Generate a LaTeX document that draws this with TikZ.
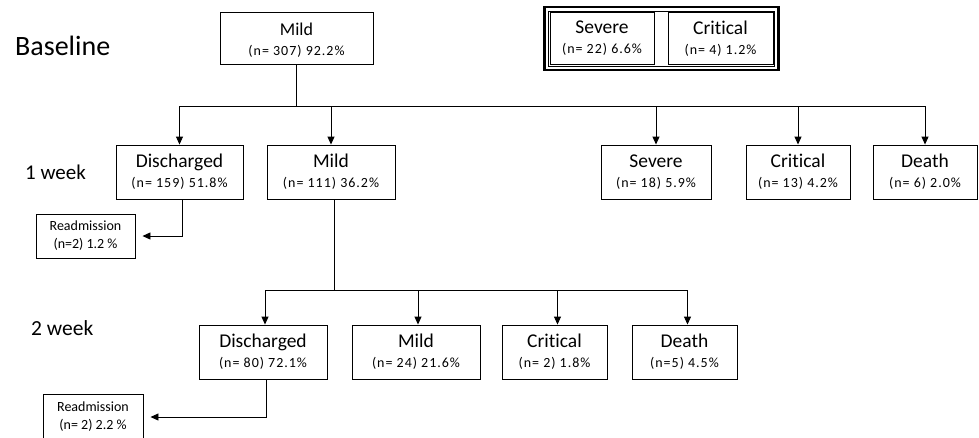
\documentclass[tikz,border=0pt]{standalone}
\usepackage{fontspec}
\setmainfont{Carlito}[Ligatures=NoCommon]
\newfontfamily\subfont{Carlito}[Ligatures=NoCommon, LetterSpace=7]
\usetikzlibrary{arrows.meta}
\begin{document}
\begin{tikzpicture}[x=1pt,y=-1pt,
  box/.style={draw, line width=0.9pt, inner sep=0pt, align=center, font=\subfont\fontsize{14}{20}\selectfont},
  rbox/.style={draw, line width=0.9pt, inner sep=0pt, align=center, font=\fontsize{14}{18}\selectfont},
  conn/.style={line width=0.9pt},
  arr/.style={line width=0.9pt, -{Triangle[length=8pt,width=7pt]}},
  lbl/.style={inner sep=0pt, anchor=west},
]
\newcommand{\ttl}[1]{{\normalfont\fontsize{19.5}{20}\selectfont #1}}
\useasboundingbox (0,0) rectangle (979,437);

% row labels
\node[lbl, font=\fontsize{28}{30}\selectfont] (lb0) at (15,46) {Baseline};
\node[lbl, font=\fontsize{21}{24}\selectfont] (lb1) at (25,172) {1 week};
\node[lbl, font=\fontsize{21.5}{24}\selectfont] (lb2) at (31,328) {2 week};

% baseline
\node[box, minimum width=153pt, minimum height=52pt, text height=37pt] (b0) at (296.5,38)
  {{\normalfont\fontsize{18}{20}\selectfont Mild}\\(n= 307) 92.2\%};
\node[draw, line width=2.6pt, minimum width=234pt, minimum height=63pt, inner sep=0pt] (grp) at (661.5,38.5) {};
\node[draw, line width=0.7pt, minimum width=226pt, minimum height=55pt, inner sep=0pt] (grpin) at (661.5,38.5) {};
\node[box, minimum width=104pt, minimum height=52pt] (bsev) at (602,38.5)
  {\ttl{Severe}\\(n= 22) 6.6\%};
\node[box, minimum width=105pt, minimum height=52pt] (bcri) at (720.5,38.5)
  {\ttl{Critical}\\(n= 4) 1.2\%};

% week 1
\node[box, minimum width=127pt, minimum height=54pt] (w1dis) at (179.5,172)
  {\ttl{Discharged}\\(n= 159) 51.8\%};
\node[box, minimum width=128pt, minimum height=54pt] (w1mil) at (331,172)
  {\ttl{Mild}\\(n= 111) 36.2\%};
\node[box, minimum width=110pt, minimum height=54pt] (w1sev) at (656,172)
  {\ttl{Severe}\\(n= 18) 5.9\%};
\node[box, minimum width=104pt, minimum height=54pt] (w1cri) at (798,172)
  {\ttl{Critical}\\(n= 13) 4.2\%};
\node[box, minimum width=104pt, minimum height=54pt] (w1dea) at (925,172)
  {\ttl{Death}\\(n= 6) 2.0\%};
\node[rbox, minimum width=99pt, minimum height=44pt] (re1) at (85.5,236)
  {Readmission\\(n=2) 1.2 \%};

% week 2
\node[box, minimum width=128pt, minimum height=54pt] (w2dis) at (263,352)
  {\ttl{Discharged}\\(n= 80) 72.1\%};
\node[box, minimum width=128pt, minimum height=54pt] (w2mil) at (416,352)
  {\ttl{Mild}\\(n= 24) 21.6\%};
\node[box, minimum width=105pt, minimum height=54pt] (w2cri) at (554.5,352)
  {\ttl{Critical}\\(n= 2) 1.8\%};
\node[box, minimum width=105pt, minimum height=54pt] (w2dea) at (684.5,352)
  {\ttl{Death}\\(n=5) 4.5\%};
\node[rbox, minimum width=100pt, minimum height=46pt] (re2) at (93,417)
  {Readmission\\(n= 2) 2.2 \%};

% connectors baseline -> week 1
\coordinate (bus1) at (296.5,106);
\draw[conn] (b0.south) -- (bus1);
\draw[conn] (w1dis.north |- bus1) -- (w1dea.north |- bus1);
\foreach \n in {w1dis,w1mil,w1sev,w1cri,w1dea}
  \draw[arr] (\n.north |- bus1) -- (\n.north);

% week 1 discharged -> readmission
\draw[arr] ([xshift=3pt]w1dis.south) |- ([xshift=7pt]re1.east);

% week 1 mild -> week 2
\coordinate (bus2) at (334,290);
\draw[conn] ([xshift=3pt]w1mil.south) -- (bus2);
\draw[conn] ([xshift=2pt]w2dis.north |- bus2) -- ([xshift=3pt]w2dea.north |- bus2);
\draw[arr] ([xshift=2pt]w2dis.north |- bus2) -- ([xshift=2pt]w2dis.north);
\draw[arr] ([xshift=2pt]w2mil.north |- bus2) -- ([xshift=2pt]w2mil.north);
\draw[arr] ([xshift=3pt]w2cri.north |- bus2) -- ([xshift=3pt]w2cri.north);
\draw[arr] ([xshift=3pt]w2dea.north |- bus2) -- ([xshift=3pt]w2dea.north);

% week 2 discharged -> readmission
\draw[arr] ([xshift=3pt]w2dis.south) |- ([xshift=7pt]re2.east);
\end{tikzpicture}
\end{document}
